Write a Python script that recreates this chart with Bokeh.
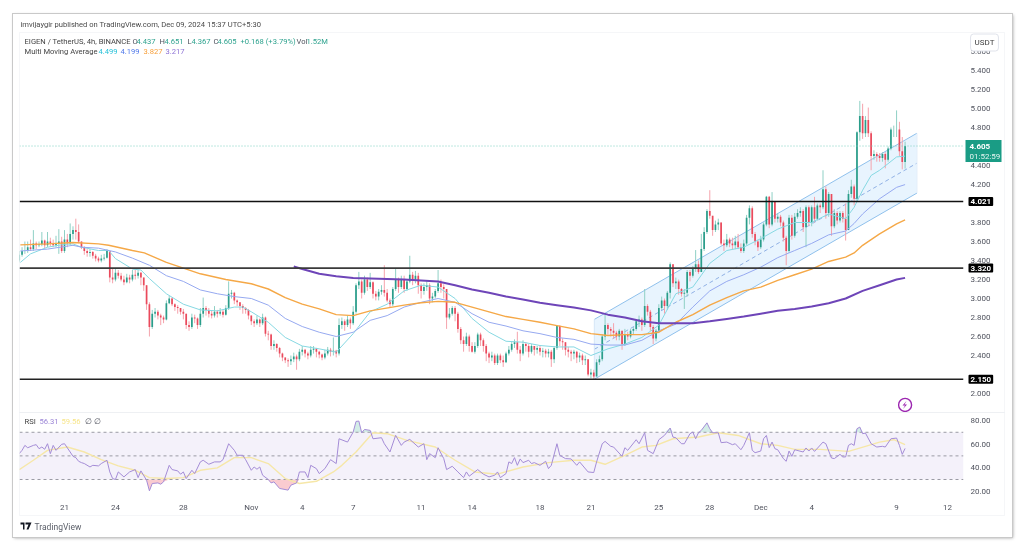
import numpy as np
from bokeh.embed import file_html
from bokeh.resources import INLINE
from bokeh.plotting import figure
from bokeh.layouts import column
from bokeh.models import (Label, BoxAnnotation, PolyAnnotation, Span, FixedTicker, Range1d, NumeralTickFormatter)

first_open = 3.40
closes = [
3.46,3.50,3.50,3.54,3.52,3.58,3.56,3.57,3.61,3.56,
3.60,3.58,3.56,3.58,3.60,3.50,3.62,3.58,3.68,3.72,
3.70,3.60,3.54,3.50,3.48,3.49,3.45,3.42,3.40,3.42,
3.43,3.50,3.22,3.20,3.27,3.24,3.20,3.17,3.22,3.20,
3.25,3.24,3.27,3.22,3.14,2.94,2.70,2.84,2.86,2.82,
2.80,2.78,2.95,3.00,2.94,2.91,2.90,2.86,2.84,2.72,
2.70,2.80,2.79,2.72,2.84,2.90,2.88,2.84,2.82,2.86,
2.84,2.86,2.83,2.90,3.05,3.06,2.98,2.96,2.92,2.90,
2.88,2.82,2.76,2.74,2.78,2.74,2.80,2.63,2.62,2.50,
2.52,2.48,2.42,2.38,2.35,2.34,2.36,2.39,2.36,2.44,
2.46,2.42,2.40,2.46,2.47,2.44,2.41,2.38,2.42,2.46,
2.44,2.45,2.42,2.72,2.76,2.72,2.78,2.74,2.86,3.14,
3.18,3.06,3.20,3.12,3.17,3.05,3.02,3.07,3.09,3.06,
2.98,2.94,3.10,3.20,3.12,3.20,3.10,3.18,3.25,3.20,
3.24,3.14,3.08,3.12,3.14,3.00,3.02,3.08,3.16,3.12,
3.10,2.80,2.84,2.90,2.84,2.68,2.56,2.52,2.60,2.50,
2.44,2.50,2.62,2.56,2.50,2.42,2.38,2.40,2.32,2.40,
2.35,2.33,2.42,2.46,2.52,2.54,2.46,2.42,2.52,2.50,
2.44,2.50,2.46,2.48,2.44,2.45,2.42,2.44,2.36,2.48,
2.71,2.55,2.54,2.46,2.44,2.42,2.44,2.38,2.40,2.35,
2.36,2.20,2.22,2.18,2.33,2.36,2.60,2.72,2.68,2.66,
2.64,2.60,2.66,2.52,2.62,2.60,2.66,2.68,2.76,2.78,
2.72,2.92,2.86,2.70,2.58,2.66,2.90,2.98,2.92,3.06,
3.36,3.16,3.18,3.10,3.05,3.06,3.28,3.24,3.31,3.36,
3.28,3.52,3.70,3.92,3.87,3.72,3.78,3.80,3.58,3.56,
3.62,3.58,3.56,3.60,3.54,3.50,3.58,3.85,3.95,3.68,
3.60,3.54,3.62,3.78,4.07,3.78,4.02,3.84,3.86,3.80,
3.64,3.50,3.85,3.66,3.86,3.90,3.92,3.75,3.96,3.80,
3.96,3.84,3.98,3.96,4.15,3.90,4.10,3.76,3.90,3.82,
3.90,3.84,3.72,4.10,4.18,4.05,4.75,4.92,4.74,4.88,
4.74,4.50,4.52,4.50,4.48,4.52,4.46,4.58,4.78,4.78,
4.78,4.55,4.437,4.605]
highs = [
3.50,3.54,3.60,3.60,3.62,3.72,3.60,3.60,3.70,3.62,
3.70,3.64,3.62,3.66,3.73,3.65,3.72,3.68,3.79,3.76,
3.84,3.78,3.60,3.55,3.52,3.52,3.50,3.47,3.44,3.46,
3.47,3.52,3.50,3.32,3.31,3.30,3.27,3.24,3.26,3.25,
3.30,3.30,3.30,3.28,3.22,3.14,2.96,2.88,2.90,2.88,
2.84,2.82,2.98,3.03,3.01,2.95,2.93,2.90,2.89,2.84,
2.76,2.84,2.83,2.80,2.90,3.01,2.92,2.90,2.87,2.92,
2.88,2.90,2.88,2.93,3.18,3.09,3.07,2.99,2.95,2.94,
2.91,2.89,2.82,2.78,2.82,2.79,2.84,2.81,2.66,2.63,
2.56,2.53,2.49,2.43,2.38,2.37,2.40,2.43,2.41,2.47,
2.50,2.47,2.44,2.50,2.50,2.48,2.45,2.42,2.46,2.49,
2.48,2.59,2.46,2.79,2.80,2.78,2.82,2.80,2.92,3.16,
3.28,3.20,3.24,3.22,3.27,3.18,3.08,3.10,3.14,3.35,
3.10,3.00,3.12,3.31,3.22,3.24,3.24,3.20,3.45,3.28,
3.29,3.27,3.16,3.16,3.18,3.16,3.06,3.10,3.30,3.20,
3.15,3.10,2.90,2.92,2.92,2.86,2.70,2.60,2.64,2.62,
2.54,2.54,2.64,2.64,2.58,2.52,2.44,2.44,2.42,2.42,
2.42,2.40,2.44,2.50,2.54,2.57,2.65,2.50,2.56,2.54,
2.52,2.52,2.50,2.50,2.50,2.48,2.47,2.47,2.46,2.50,
2.72,2.72,2.58,2.54,2.49,2.46,2.46,2.45,2.43,2.42,
2.40,2.36,2.26,2.25,2.36,2.40,2.62,2.84,2.74,2.70,
2.74,2.66,2.68,2.66,2.68,2.65,2.68,2.70,2.78,2.82,
2.80,3.10,2.94,2.88,2.72,2.68,2.94,3.02,3.00,3.08,
3.38,3.36,3.22,3.20,3.11,3.10,3.30,3.30,3.34,3.51,
3.40,3.68,3.75,3.94,4.14,3.86,3.82,3.84,3.78,3.62,
3.68,3.64,3.64,3.66,3.68,3.58,3.62,3.88,3.98,3.97,
3.70,3.62,3.66,3.80,4.08,4.08,4.12,4.02,3.90,3.88,
3.82,3.66,3.88,3.88,3.90,3.94,3.96,3.94,3.98,3.98,
3.98,4.07,4.00,4.00,4.35,4.18,4.12,4.10,3.94,3.92,
3.92,3.92,4.00,4.14,4.25,4.20,4.76,5.08,5.05,4.92,
5.01,4.76,4.56,4.54,4.53,4.54,4.54,4.60,4.80,4.82,
4.98,4.86,4.70,4.651]
lows = [
3.38,3.44,3.47,3.48,3.50,3.50,3.52,3.54,3.55,3.53,
3.54,3.55,3.54,3.54,3.47,3.48,3.48,3.54,3.56,3.62,
3.62,3.58,3.52,3.46,3.44,3.44,3.42,3.39,3.38,3.38,
3.40,3.42,3.17,3.16,3.18,3.21,3.18,3.14,3.16,3.16,
3.18,3.20,3.21,3.14,3.08,2.88,2.60,2.68,2.80,2.78,
2.72,2.74,2.77,2.94,2.92,2.87,2.84,2.83,2.78,2.68,
2.66,2.68,2.74,2.68,2.70,2.80,2.82,2.80,2.79,2.80,
2.80,2.82,2.80,2.82,2.88,3.00,2.94,2.92,2.88,2.84,
2.84,2.78,2.72,2.70,2.72,2.70,2.72,2.60,2.56,2.46,
2.46,2.44,2.38,2.34,2.32,2.28,2.30,2.33,2.25,2.34,
2.40,2.38,2.36,2.38,2.42,2.38,2.37,2.35,2.36,2.40,
2.39,2.40,2.38,2.40,2.68,2.66,2.70,2.68,2.72,2.84,
3.10,3.00,3.04,3.08,3.10,3.00,2.98,2.98,3.04,3.02,
2.96,2.90,2.92,3.08,3.06,3.10,3.06,3.08,3.16,3.14,
3.16,3.05,3.00,3.04,3.08,2.94,2.96,3.00,3.06,3.06,
3.00,2.68,2.78,2.82,2.76,2.64,2.52,2.44,2.50,2.44,
2.43,2.42,2.48,2.50,2.44,2.34,2.32,2.34,2.30,2.30,
2.32,2.28,2.32,2.40,2.44,2.48,2.42,2.34,2.40,2.44,
2.38,2.42,2.40,2.42,2.40,2.38,2.38,2.38,2.28,2.32,
2.46,2.50,2.46,2.40,2.38,2.34,2.36,2.32,2.33,2.30,
2.30,2.18,2.16,2.15,2.18,2.30,2.34,2.56,2.62,2.60,
2.58,2.56,2.56,2.46,2.50,2.56,2.58,2.62,2.66,2.70,
2.66,2.70,2.82,2.66,2.52,2.55,2.64,2.88,2.84,2.88,
3.00,3.12,3.10,3.04,3.02,2.89,3.02,3.18,3.22,3.28,
3.26,3.28,3.50,3.68,3.84,3.66,3.70,3.72,3.56,3.50,
3.54,3.54,3.52,3.52,3.52,3.48,3.48,3.56,3.78,3.64,
3.56,3.50,3.52,3.60,3.76,3.74,3.76,3.80,3.80,3.76,
3.60,3.35,3.48,3.62,3.64,3.84,3.86,3.70,3.54,3.76,
3.76,3.80,3.82,3.90,3.94,3.84,3.86,3.66,3.74,3.78,
3.80,3.80,3.61,3.72,4.06,3.98,4.02,4.66,4.68,4.70,
4.70,4.35,4.46,4.44,4.44,4.44,4.37,4.44,4.56,4.70,
4.70,4.50,4.36,4.367]

ma_fast_d = [-2.6,-2,-1,0,0.5,1,2,2.6,3,4,4.5,5,6,7,8,9,10,10.5,11,12,13,14,15,16,17,18,19,20,21,22,23,24,25,26,27,28,29,30,31,32,33,34,35,36,37,38,39,40,41,42,43,44,45,46,46.5,47,47.5,48,49,49.5]
ma_fast_v = [3.38,3.47,3.54,3.57,3.575,3.54,3.505,3.505,3.42,3.31,3.30,3.21,3.05,2.94,2.88,2.87,2.91,2.91,2.86,2.75,2.59,2.50,2.47,2.435,2.63,2.86,2.94,3.08,3.14,3.12,3.00,2.79,2.645,2.55,2.54,2.505,2.49,2.49,2.40,2.47,2.52,2.59,2.72,3.05,3.12,3.37,3.505,3.54,3.63,3.73,3.80,3.80,3.89,3.84,3.96,4.14,4.295,4.35,4.49,4.499]
ma_mid_d = [-2.6,-1,0.5,1,2,3,4,5,6,7,8,9,10,11,12,13,14,15,16,17,18,19,20,21,22,23,24,25,26,27,28,29,30,31,32,33,34,35,36,37,38,39,40,41,42,43,44,45,46,46.5,47,48,49,49.5]
ma_mid_v = [3.50,3.52,3.56,3.54,3.53,3.49,3.425,3.35,3.24,3.18,3.09,3.05,3.02,3.00,2.93,2.79,2.705,2.645,2.60,2.645,2.77,2.82,2.91,2.96,3.00,2.96,2.84,2.75,2.71,2.66,2.63,2.59,2.57,2.52,2.51,2.51,2.56,2.66,2.73,2.91,3.08,3.18,3.25,3.33,3.43,3.505,3.58,3.67,3.71,3.79,3.89,4.05,4.17,4.199]
ma_slow_d = [-2.6,-1,0.5,2,2.6,4,4.7,6,7,8,9.5,11,12,13,14,15,16,17,18,20,21,22,23,24,25,26,27,28,29,30,31,32,33,34,35,36,37,38,39,40,41,42,43,44,45,46,46.5,47,48,49,49.5]
ma_slow_v = [3.565,3.575,3.59,3.575,3.56,3.505,3.48,3.38,3.32,3.26,3.20,3.155,3.10,3.01,2.94,2.89,2.83,2.82,2.87,2.93,2.955,2.97,2.96,2.91,2.86,2.81,2.78,2.75,2.715,2.68,2.63,2.61,2.62,2.62,2.645,2.75,2.83,2.93,3.01,3.08,3.12,3.19,3.25,3.31,3.39,3.435,3.48,3.56,3.68,3.785,3.827]
ma_long_d = [13.5,14,15,16,17,18,20,22,23,24,25,26,27,28,29,30,31,32,33,34,35,36,37,38,39,40,41,42,43,44,45,46,47,48,49,49.5]
ma_long_v = [3.336,3.31,3.26,3.235,3.215,3.21,3.20,3.18,3.14,3.095,3.06,3.02,2.99,2.955,2.93,2.905,2.875,2.83,2.80,2.76,2.74,2.74,2.74,2.76,2.785,2.81,2.84,2.87,2.89,2.915,2.95,3.00,3.08,3.14,3.20,3.217]

levels = [4.021, 3.32, 2.15]
level_colors = ["#111111", "#3a3a3a", "#222222"]
level_widths = [1.4, 1.9, 1.4]
last_price = 4.605
channel_d = [31.2, 50.2]
channel_top = [2.78, 4.74]
channel_mid = [2.465, 4.425]
channel_bot = [2.15, 4.11]

rsi_i = [0,1,2,3,5,6,7,8,9,10,11,12,13,15,16,18,19,20,21,22,23,25,26,28,29,31,32,33,34,35,37,39,41,42,43,45,46,47,49,50,51,53,54,56,57,58,59,61,62,64,65,67,69,71,72,74,76,77,79,80,82,83,84,85,86,88,89,90,92,95,96,98,99,101,102,103,105,106,108,110,112,113,
116,118,119,120,121,122,124,125,128,129,131,133,135,136,138,141,143,144,145,147,148,150,151,153,155,157,158,159,162,164,166,168,169,170,172,173,174,175,176,177,178,180,181,182,184,186,187,188,190,191,193,195,197,198,201,203,204,206,207,209,210,213,214,215,218,219,221,222,224,226,228,230,231,232,234,
235,237,238,239,240,241,243,244,245,247,248,250,252,253,255,256,258,259,260,262,263,264,265,266,267,268,270,271,272,273,274,277,278,279,280,281,284,285,287,288,290,291,292,293,294,295,296,297,298,299,301,303,305,306,308,310,311,312,313]
rsi_v = [51.9,54.7,58.9,56.9,58.9,59.5,56.1,57.5,55.6,60.3,51.9,58.9,54.7,59.8,60.3,53.3,49.6,48.5,45.4,44.3,43.5,40.6,42.0,41.5,43.5,46.3,36.4,30.8,30.0,36.4,32.2,36.4,38.4,31.6,37.3,29.4,20.4,26.6,27.1,26.0,28.0,42.0,38.4,37.3,34.5,36.4,30.8,37.8,35.0,44.9,46.3,42.9,44.9,44.9,46.8,60.3,54.7,50.5,50.5,46.8,37.8,40.6,38.7,40.6,33.6,30.0,27.1,28.0,22.4,21.0,25.2,27.1,36.4,36.4,31.6,42.0,39.2,35.0,39.2,46.8,43.5,64.5,
61.7,70.2,79.2,79.5,69.6,72.4,71.6,64.5,65.4,60.3,53.3,67.4,58.9,61.7,64.0,57.5,60.3,46.8,51.9,48.5,56.9,47.7,38.4,41.2,36.4,31.6,36.4,32.8,38.4,34.5,32.2,33.6,36.4,31.6,35.0,44.9,43.5,48.5,42.0,47.4,44.3,46.3,43.5,44.3,42.0,45.4,39.2,42.0,60.3,50.5,47.7,47.4,42.0,44.9,36.4,35.9,44.9,60.3,62.3,58.1,57.5,49.6,56.9,54.7,63.7,60.3,69.6,54.7,51.9,63.7,67.4,73.6,65.9,65.4,60.3,
60.3,68.8,70.2,64.5,69.6,71.6,78.0,73.0,69.6,69.6,61.2,61.7,59.5,60.3,55.2,58.9,69.6,54.7,52.7,54.1,64.5,67.3,57.0,61.7,56.1,55.2,47.7,45.4,54.1,49.6,55.2,53.3,56.7,54.1,56.7,53.8,61.7,60.3,48.2,47.7,51.3,49.1,49.1,58.9,60.3,58.9,73.0,74.4,68.8,69.3,60.3,57.5,58.1,57.5,64.5,65.1,58.9,51.3,56.31]
rsi_ma_i = [0,5,10,17,23,29,35,41,46,52,58,64,70,76,82,88,94,99,105,111,114,119,125,130,137,147,154,161,169,178,187,196,202,207,214,220,225,231,240,247,254,262,268,274,283,293,299,304,309,313]
rsi_ma_v = [38.4,46.3,54.7,57.5,53.3,46.8,41.5,37.8,31.6,30.8,31.6,37.8,39.8,48.5,48.5,43.5,30.8,26.6,28.5,36.4,42.0,53.3,69.6,68.8,63.1,57.5,46.3,36.4,34.5,40.6,44.3,46.3,46.3,42.9,50.5,57.5,58.9,64.5,66.0,69.6,67.3,60.3,58.9,55.5,55.5,53.8,58.1,61.7,63.7,59.56]
rsi_bands = [70, 50, 30]

date_ticks = [0,3,7,11,14,17,21,24,28,31,35,38,41,44,49,52]
date_labels = ["21","24","28","Nov","4","7","11","14","18","21","25","28","Dec","4","9","12"]
price_ticks = [2.0,2.4,2.6,2.8,3.0,3.2,3.4,3.6,3.8,4.2,4.4,4.8,5.0,5.2,5.4,5.6]
rsi_ticks = [20,40,60,80]

assert len(closes) == len(highs) == len(lows)
assert len(rsi_i) == len(rsi_v) and len(rsi_ma_i) == len(rsi_ma_v)
assert len(ma_fast_d) == len(ma_fast_v) and len(ma_mid_d) == len(ma_mid_v)
assert len(ma_slow_d) == len(ma_slow_v) and len(ma_long_d) == len(ma_long_v)

FONT = "Roboto"
TXT = "#50535e"
n = len(closes)
bar_x = 49.5 - (n - 1 - np.arange(n)) / 6
c = np.array(closes)
o = np.r_[first_open, c[:-1]]
o[-1] = 4.437
h = np.maximum(np.array(highs), np.maximum(o, c))
l = np.minimum(np.array(lows), np.minimum(o, c))
up = c >= o
x_range = Range1d(-2.65, 52.94)
price_range = Range1d(1.8, 5.8)

p = figure(width=999, height=398, x_range=x_range, y_range=price_range,
           x_axis_location=None, y_axis_location="right", toolbar_location=None,
           output_backend="svg", min_border_left=6, min_border_right=49, min_border_top=18, min_border_bottom=0)
p.outline_line_color = None
p.grid.visible = False
ax = p.yaxis[0]
ax.ticker = FixedTicker(ticks=price_ticks)
ax.formatter = NumeralTickFormatter(format="0.000")
ax.axis_line_color = None
ax.major_tick_line_color = None
ax.minor_tick_line_color = None
ax.major_tick_out = 0
ax.major_label_text_font = FONT
ax.major_label_text_font_size = "8px"
ax.major_label_text_color = TXT
ax.major_label_standoff = 7

p.varea(channel_d, channel_bot, channel_top, fill_color="#2196f3", fill_alpha=0.1)
p.line(channel_d, channel_top, line_color="#8fc0ec", line_width=1)
p.line(channel_d, channel_bot, line_color="#8fc0ec", line_width=1)
p.line(channel_d, channel_mid, line_color="#8fb0e4", line_width=1, line_dash="4 3")
p.segment([channel_d[0]], [channel_bot[0]], [channel_d[0]], [channel_top[0]], line_color="#d5e6f7", line_width=1)
p.segment([channel_d[1]], [channel_bot[1]], [channel_d[1]], [channel_top[1]], line_color="#e4eff9", line_width=1)

wick_col = np.where(up, "#8fd0c5", "#f5a3ac").tolist()
body_col = np.where(up, "#2a9d8a", "#ea4a5c").tolist()
p.segment(bar_x, h, bar_x, l, line_color=wick_col, line_width=1)
p.vbar(bar_x, width=0.1, top=np.maximum(o, c), bottom=np.minimum(o, c), fill_color=body_col, line_color=None)

p.line(ma_fast_d, ma_fast_v, line_color="#86d8e2", line_width=1)
p.line(ma_mid_d, ma_mid_v, line_color="#96a9f0", line_width=1)
p.line(ma_slow_d, ma_slow_v, line_color="#f5a847", line_width=1.4)
p.line(ma_long_d, ma_long_v, line_color="#6e45b8", line_width=2)

p.add_layout(Span(location=last_price, dimension="width", line_color="#7ccfc0", line_width=1, line_dash="1 2"))
for lv, col, lw in zip(levels, level_colors, level_widths):
    p.add_layout(Span(location=lv, dimension="width", line_color=col, line_width=lw))

p.scatter([49.5], [1.88], size=13, marker="circle", fill_color="white", line_color="#9c27b0", line_width=1.4)
p.add_layout(PolyAnnotation(xs=[893,889,891.5,889.5,893.5,891], ys=[386.5,391,391,394.5,390,390],
                            xs_units="canvas", ys_units="canvas", fill_color="#9c27b0", fill_alpha=1, line_color=None))

q = figure(width=999, height=125, x_range=x_range, y_range=Range1d(13.9, 86.75),
           y_axis_location="right", toolbar_location=None, output_backend="svg",
           min_border_left=6, min_border_right=49, min_border_top=0, min_border_bottom=39)
q.outline_line_color = None
q.grid.visible = False
xa = q.xaxis[0]
xa.ticker = FixedTicker(ticks=date_ticks)
xa.major_label_overrides = dict(zip(date_ticks, date_labels))
ya = q.yaxis[0]
ya.ticker = FixedTicker(ticks=rsi_ticks)
ya.formatter = NumeralTickFormatter(format="0.00")
for a in (xa, ya):
    a.axis_line_color = None
    a.major_tick_line_color = None
    a.minor_tick_line_color = None
    a.major_tick_out = 0
    a.major_label_text_font = FONT
    a.major_label_text_font_size = "8px"
    a.major_label_text_color = TXT
ya.major_label_standoff = 7
xa.major_label_standoff = 4

rx = bar_x[np.array(rsi_i)]
rv = np.array(rsi_v)
band_x = [x_range.start, x_range.end]
q.varea(band_x, [rsi_bands[2]] * 2, [rsi_bands[0]] * 2, fill_color="#7e57c2", fill_alpha=0.085)
q.varea(rx, np.minimum(rv, 30), np.full_like(rv, 30), fill_color="#f7a8b0", fill_alpha=0.6)
q.varea(rx, np.full_like(rv, 70), np.maximum(rv, 70), fill_color="#a8dccf", fill_alpha=0.5)
for b in rsi_bands:
    q.line(band_x, [b, b], line_color="#9a9aa4", line_width=1, line_dash="3 3")
q.line(bar_x[np.array(rsi_ma_i)], rsi_ma_v, line_color="#f6e7a8", line_width=1.4)
q.line(rx, rv, line_color="#a48cd6", line_width=1)

# ---------- transparent overlay across the whole card: header, tags, footer ----------
v = figure(width=999, height=523, x_range=Range1d(0, 999), y_range=Range1d(523, 0),
           x_axis_location=None, y_axis_location=None, toolbar_location=None, output_backend="svg",
           min_border=0, background_fill_alpha=0, border_fill_alpha=0,
           styles={"position": "absolute", "left": "0", "top": "0", "pointer-events": "none", "z-index": "5"})
v.outline_line_color = None
v.grid.visible = False

def txt(x, y, s, color=TXT, size=7.6, **kw):
    v.add_layout(Label(x=x, y=y, text=s, text_color=color, text_font=FONT,
                       text_font_size=f"{size}px", text_baseline="middle", **kw))

def box(left, right, top, bottom, **kw):
    v.add_layout(BoxAnnotation(left=left, right=right, top=top, bottom=bottom, **kw))

def price_y(pr):
    return 18 + (price_range.end - pr) / (price_range.end - price_range.start) * 380

box(6, 991, 18, 398, fill_alpha=0, line_color="#dfe2e8", line_width=1)
box(6, 991, 398, 501, fill_alpha=0, line_color="#dfe2e8", line_width=1)
for lv in levels:
    v.add_layout(Label(x=955, y=price_y(lv), text=f"{lv:.3f}", text_color="white",
                       text_font=FONT, text_font_size="8px", text_font_style="bold", text_baseline="middle",
                       background_fill_color="#000000", padding=2, border_radius=1))
box(952, 988, price_y(last_price) - 6, price_y(last_price) + 16, fill_color="#1a9c85", fill_alpha=1, line_color=None)
txt(956, price_y(last_price), f"{last_price:.3f}", "white", 8, text_font_style="bold")
txt(956, price_y(last_price) + 10, "01:52:59", "#e4f5f1", 8)
v.add_layout(Label(x=971, y=28, text="USDT", text_color="#404040",
                   text_font=FONT, text_font_size="8px", text_baseline="middle", text_align="center",
                   background_fill_color="white", border_line_color="#e0e3eb", padding=4, border_radius=3))

txt(7, 10, "imvijaygir published on TradingView.com, Dec 09, 2024 15:37 UTC+5:30", "#4a4a4a")
G = "#2fa38f"
txt(11, 27, "EIGEN / TetherUS, 4h, BINANCE", "#454545")
for x_, s, col in [(119,"O",TXT),(123,"4.437",G),(146,"H",TXT),(151,"4.651",G),(174,"L",TXT),(178,"4.367",G),
                   (200,"C",TXT),(204,"4.605",G),(227,"+0.168 (+3.79%)",G),(283,"Vol",TXT),(293,"1.52M",G)]:
    txt(x_, 27, s, col)
txt(11, 37, "Multi Moving Average", "#454545")
for x_, s, col in [(85,"4.499","#26c0d8"),(107,"4.199","#4f78ea"),(130,"3.827","#f7a03c"),(152,"3.217","#8f74d6")]:
    txt(x_, 37, s, col)

txt(11, 407, "RSI", "#454545")
txt(26, 407, "56.31", "#9b85d6")
txt(48, 407, "59.56", "#f7e58a")
txt(71, 407, "∅", TXT)
txt(80, 407, "∅", TXT)
txt(21, 512, "TradingView", "#5a5e68", 8.5)
for xs_, ys_ in [([7,11,11,9.5,9.5,7],[508,508,515,515,510,510]),
                 ([12,18,15,13,15,12],[508,508,515,515,510,510])]:
    v.add_layout(PolyAnnotation(xs=xs_, ys=ys_, fill_color="#131722", fill_alpha=1, line_color=None))

panes = column(p, q, spacing=0, width=999, height=523)
page = column(panes, v, spacing=0, margin=(14, 0, 0, 13), width=999, height=523,
              styles={"box-shadow": "0 0 0 1px #c9c9c9, 1px 1px 3px #a0a0a0", "background": "white",
                      "position": "relative", "filter": "blur(0.35px)"})
open("out.html", "w").write(file_html(page, INLINE))
